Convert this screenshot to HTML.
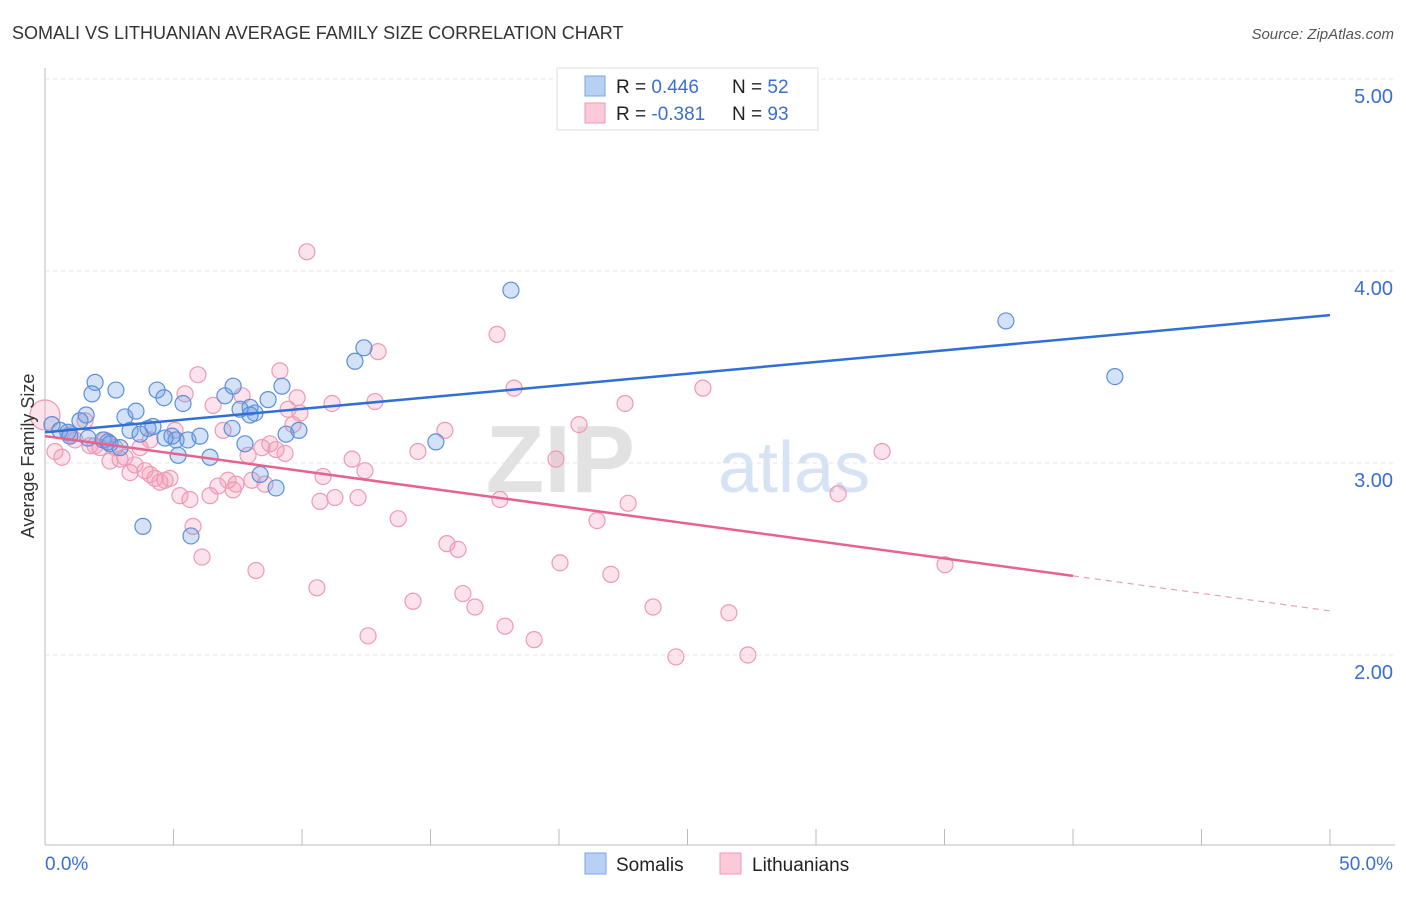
<!DOCTYPE html>
<html><head><meta charset="utf-8"><style>
body{margin:0;background:#fff;font-family:"Liberation Sans",sans-serif;}
svg text{font-family:"Liberation Sans",sans-serif;}
</style></head><body>
<svg id="chart" width="1406" height="892" viewBox="0 0 1406 892" xmlns="http://www.w3.org/2000/svg">
<text x="12" y="39" font-size="18" fill="#333">SOMALI VS LITHUANIAN AVERAGE FAMILY SIZE CORRELATION CHART</text>
<text x="1394" y="39" font-size="15" fill="#555" font-style="italic" text-anchor="end">Source: ZipAtlas.com</text>
<g>
<text x="635" y="492" font-size="96" fill="#e2e2e2" text-anchor="end" font-family="Liberation Serif" font-weight="bold">ZIP</text>
<text x="718" y="492" font-size="72" fill="#d5e3f5">atlas</text>
</g>
<g id="grid"></g>
<g id="axes"></g>
<g id="pts"></g>
<g id="trends"></g>
<text transform="translate(34,456) rotate(-90)" font-size="18" fill="#333" text-anchor="middle">Average Family Size</text>
<g>
<rect x="557" y="68" width="261" height="62" fill="#fff" stroke="#ddd"/>
<rect x="585" y="76" width="20" height="20" fill="#b7d0f4" stroke="#7aa6e6"/>
<rect x="585" y="103" width="20" height="20" fill="#fcc9d8" stroke="#ee9ab4"/>
<text x="616" y="93" font-size="19" fill="#222">R = <tspan fill="#3a6fd0"> 0.446</tspan></text>
<text x="732" y="93" font-size="19" fill="#222">N = <tspan fill="#3a6fd0">52</tspan></text>
<text x="616" y="120" font-size="19" fill="#222">R = <tspan fill="#3a6fd0">-0.381</tspan></text>
<text x="732" y="120" font-size="19" fill="#222">N = <tspan fill="#3a6fd0">93</tspan></text>
</g>
<g>
<rect x="585" y="853" width="21" height="21" fill="#b7d0f4" stroke="#7aa6e6"/>
<text x="616" y="871" font-size="19" fill="#222">Somalis</text>
<rect x="720" y="853" width="21" height="21" fill="#fcc9d8" stroke="#ee9ab4"/>
<text x="752" y="871" font-size="19" fill="#222">Lithuanians</text>
</g>
</svg>
<script>
const blueX=[0.27,0.58,0.89,1.36,1.60,1.95,1.83,2.26,2.45,2.76,3.11,3.31,3.54,3.70,4.01,4.20,4.36,4.63,4.94,5.10,5.37,5.56,6.03,6.42,7.00,7.32,7.28,7.59,7.78,7.98,8.17,8.37,8.68,8.99,9.22,9.38,9.88,3.81,5.68,5.18,12.06,12.41,15.21,18.13,37.39,41.63,4.67,2.53,0.97,2.92,7.98,1.67];
const blueY=[3.20,3.17,3.16,3.22,3.25,3.42,3.36,3.12,3.11,3.38,3.24,3.17,3.27,3.15,3.18,3.19,3.38,3.34,3.14,3.12,3.31,3.12,3.14,3.03,3.35,3.40,3.18,3.28,3.10,3.29,3.26,2.94,3.33,2.87,3.40,3.15,3.17,2.67,2.62,3.04,3.53,3.60,3.11,3.90,3.74,3.45,3.13,3.10,3.14,3.08,3.25,3.13];
const pinkX=[0,0.39,0.66,0.97,1.17,1.56,1.95,2.14,2.53,2.72,2.92,3.11,3.31,3.50,3.70,3.89,4.09,4.28,4.47,4.67,4.86,5.06,5.25,5.45,5.64,5.76,5.95,6.11,6.42,6.54,6.73,6.93,7.12,7.32,7.43,7.67,7.90,8.05,8.21,8.44,8.56,8.75,8.99,9.14,9.34,9.46,9.65,9.81,9.92,10.19,10.58,10.70,10.82,11.17,11.28,11.95,12.18,12.45,12.57,12.84,12.96,13.74,14.32,14.51,15.56,15.64,16.07,16.26,16.73,17.59,17.70,17.90,18.25,19.03,19.88,20.04,20.78,21.48,22.02,22.57,22.69,23.66,24.55,25.60,26.61,27.35,30.86,32.57,35.02,1.75,2.33,4.09];
const pinkY=[3.25,3.06,3.03,3.15,3.12,3.22,3.09,3.08,3.01,3.08,3.02,3.03,2.95,2.99,3.08,2.96,2.94,2.92,2.90,2.91,2.92,3.17,2.83,3.36,2.81,2.67,3.46,2.51,2.83,3.30,2.88,3.17,2.91,2.86,2.89,3.35,3.04,2.91,2.44,3.08,2.89,3.10,3.07,3.48,3.05,3.28,3.20,3.34,3.26,4.10,2.35,2.80,2.93,3.31,2.82,3.02,2.82,2.96,2.10,3.32,3.58,2.71,2.28,3.06,3.17,2.58,2.55,2.32,2.25,3.67,2.81,2.15,3.39,2.08,3.02,2.48,3.20,2.70,2.42,3.31,2.79,2.25,1.99,3.39,2.22,2.00,2.84,3.06,2.47,3.09,3.12,3.12];
const yTicks=[2,3,4,5];
const yTickLabels=["2.00","3.00","4.00","5.00"];
const xTicks=[0,5,10,15,20,25,30,35,40,45,50];
const blueTrend=[3.16,3.77];
const pinkTrend=[3.14,2.23];
const pinkSolidEnd=40;
const NS="http://www.w3.org/2000/svg";
const X=v=>45+v/50*1285;
const Y=v=>79+(5-v)*192;
function mk(tag,attrs,parent){const e=document.createElementNS(NS,tag);for(const k in attrs)e.setAttribute(k,attrs[k]);parent.appendChild(e);return e;}
const grid=document.getElementById('grid'),axes=document.getElementById('axes'),pts=document.getElementById('pts'),trends=document.getElementById('trends');
yTicks.forEach((t,i)=>{
  const l=mk('line',{x1:45,x2:1395,y1:Y(t),y2:Y(t),stroke:'#e6e6e6','stroke-dasharray':'4,4'},grid);
  
  
  const tx=mk('text',{x:1393,y:Y(t)+24,'font-size':20,fill:'#3a6fd0','text-anchor':'end'},axes);
  tx.textContent=yTickLabels[i];
  
  
});
mk('line',{x1:45,x2:45,y1:68,y2:845,stroke:'#bbb'},axes);
mk('line',{x1:45,x2:1395,y1:845,y2:845,stroke:'#bbb'},axes);
xTicks.forEach(t=>{
  const l=mk('line',{x1:X(t),x2:X(t),y1:829,y2:845,stroke:'#bbb'},axes);
  
  
});
const x0=mk('text',{x:45,y:870,'font-size':19,fill:'#3a6fd0'},axes);x0.textContent='0.0%';


const x1=mk('text',{x:1393,y:870,'font-size':19,fill:'#3a6fd0','text-anchor':'end'},axes);x1.textContent='50.0%';


pinkX.forEach((v,i)=>{
  const c=mk('circle',{cx:X(v),cy:Y(pinkY[i]),r:i===0?15:8,fill:'rgba(244,150,180,0.28)',stroke:'#ee9ab4','stroke-width':1.2},pts);
  
  
});
blueX.forEach((v,i)=>{
  const c=mk('circle',{cx:X(v),cy:Y(blueY[i]),r:8,fill:'rgba(110,160,230,0.3)',stroke:'#5b8fdb','stroke-width':1.2},pts);
  
  
});
const bl=mk('line',{x1:X(0),y1:Y(blueTrend[0]),x2:X(50),y2:Y(blueTrend[1]),stroke:'#2f6fd6','stroke-width':2.5},trends);


const pm=pinkTrend[0]+(pinkTrend[1]-pinkTrend[0])*pinkSolidEnd/50;
const pl=mk('line',{x1:X(0),y1:Y(pinkTrend[0]),x2:X(pinkSolidEnd),y2:Y(pm),stroke:'#e8628f','stroke-width':2.5},trends);


const pd=mk('line',{x1:X(pinkSolidEnd),y1:Y(pm),x2:X(50),y2:Y(pinkTrend[1]),stroke:'#e8a0b8','stroke-width':1.2,'stroke-dasharray':'6,5'},trends);


</script>
</body></html>
